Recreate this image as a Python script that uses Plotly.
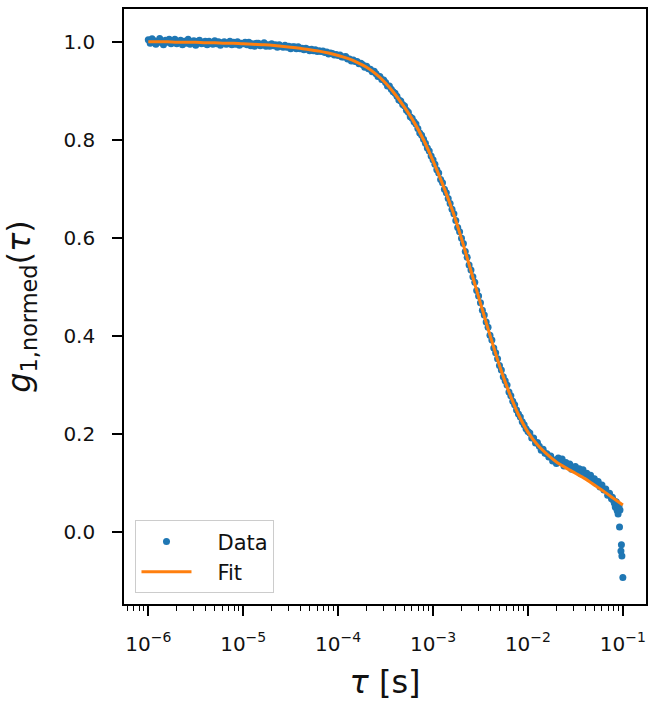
import numpy as np
import plotly.graph_objects as go

# ---- data ----
log_tau_data = [
    -6.00, -5.98, -5.96, -5.94, -5.92, -5.90, -5.88, -5.86, -5.84, -5.82,
    -5.80, -5.78, -5.76, -5.74, -5.72, -5.70, -5.68, -5.66, -5.64, -5.62,
    -5.60, -5.58, -5.56, -5.54, -5.52, -5.50, -5.48, -5.46, -5.44, -5.42,
    -5.40, -5.38, -5.36, -5.34, -5.32, -5.30, -5.28, -5.26, -5.24, -5.22,
    -5.20, -5.18, -5.16, -5.14, -5.12, -5.10, -5.08, -5.06, -5.04, -5.02,
    -5.00, -4.98, -4.96, -4.94, -4.92, -4.90, -4.88, -4.86, -4.84, -4.82,
    -4.80, -4.78, -4.76, -4.74, -4.72, -4.70, -4.68, -4.66, -4.64, -4.62,
    -4.60, -4.58, -4.56, -4.54, -4.52, -4.50, -4.48, -4.46, -4.44, -4.42,
    -4.40, -4.38, -4.36, -4.34, -4.32, -4.30, -4.28, -4.26, -4.24, -4.22,
    -4.20, -4.18, -4.16, -4.14, -4.12, -4.10, -4.08, -4.06, -4.04, -4.02,
    -4.00, -3.98, -3.96, -3.94, -3.92, -3.90, -3.88, -3.86, -3.84, -3.82,
    -3.80, -3.78, -3.76, -3.74, -3.72, -3.70, -3.68, -3.66, -3.64, -3.62,
    -3.60, -3.58, -3.56, -3.54, -3.52, -3.50, -3.48, -3.46, -3.44, -3.42,
    -3.40, -3.38, -3.36, -3.34, -3.32, -3.30, -3.28, -3.26, -3.24, -3.22,
    -3.20, -3.18, -3.16, -3.14, -3.12, -3.10, -3.08, -3.06, -3.04, -3.02,
    -3.00, -2.98, -2.96, -2.94, -2.92, -2.90, -2.88, -2.86, -2.84, -2.82,
    -2.80, -2.78, -2.76, -2.74, -2.72, -2.70, -2.68, -2.66, -2.64, -2.62,
    -2.60, -2.58, -2.56, -2.54, -2.52, -2.50, -2.48, -2.46, -2.44, -2.42,
    -2.40, -2.38, -2.36, -2.34, -2.32, -2.30, -2.28, -2.26, -2.24, -2.22,
    -2.20, -2.18, -2.16, -2.14, -2.12, -2.10, -2.08, -2.06, -2.04, -2.02,
    -2.00, -1.98, -1.96, -1.94, -1.92, -1.90, -1.88, -1.86, -1.84, -1.82,
    -1.80, -1.78, -1.76, -1.74, -1.72, -1.70, -1.68, -1.66, -1.64, -1.62,
    -1.60, -1.58, -1.56, -1.54, -1.52, -1.50, -1.48, -1.46, -1.44, -1.42,
    -1.40, -1.38, -1.36, -1.34, -1.32, -1.30, -1.28, -1.26, -1.24, -1.22,
    -1.20, -1.18, -1.16, -1.14, -1.12,
    -1.11, -1.10, -1.09, -1.08, -1.07, -1.06, -1.05, -1.04, -1.035, -1.03,
    -1.02, -1.015, -1.01, -1.00,
]
g1_data = [
    1.004, 0.997, 1.006, 1.002, 0.995, 1.001, 1.007, 0.998, 0.994, 1.003,
    0.999, 1.005, 0.996, 1.001, 1.005, 0.996, 0.999, 1.003, 0.994, 1.001,
    0.997, 1.005, 0.995, 1.000, 1.002, 0.993, 1.001, 1.003, 0.996, 0.997,
    1.001, 0.994, 1.001, 0.998, 0.995, 1.002, 0.996, 1.000, 0.993, 0.998,
    1.000, 0.995, 0.996, 1.001, 0.994, 0.999, 0.995, 1.000, 0.993, 0.997,
    0.996, 0.999, 0.994, 0.999, 0.992, 0.996, 0.991, 0.997, 0.997, 0.992,
    0.994, 0.998, 0.991, 0.994, 0.991, 0.996, 0.992, 0.994, 0.989, 0.994,
    0.991, 0.989, 0.993, 0.989, 0.991, 0.986, 0.990, 0.990, 0.986, 0.990,
    0.986, 0.987, 0.984, 0.987, 0.985, 0.982, 0.985, 0.982, 0.984, 0.980,
    0.982, 0.980, 0.981, 0.978, 0.979, 0.975, 0.977, 0.976, 0.973, 0.974,
    0.972, 0.973, 0.969, 0.969, 0.970, 0.965, 0.965, 0.961, 0.963, 0.960,
    0.960, 0.955, 0.956, 0.953, 0.948, 0.950, 0.945, 0.944, 0.939, 0.940,
    0.935, 0.929, 0.929, 0.923, 0.922, 0.917, 0.910, 0.910, 0.903, 0.898,
    0.895, 0.889, 0.881, 0.879, 0.872, 0.869, 0.860, 0.856, 0.847, 0.844,
    0.837, 0.832, 0.823, 0.814, 0.809, 0.801, 0.793, 0.783, 0.777, 0.767,
    0.759, 0.750, 0.739, 0.732, 0.719, 0.712, 0.699, 0.692, 0.680, 0.670,
    0.658, 0.649, 0.635, 0.621, 0.612, 0.599, 0.588, 0.572, 0.560, 0.544,
    0.534, 0.520, 0.509, 0.492, 0.481, 0.467, 0.452, 0.442, 0.428, 0.417,
    0.401, 0.391, 0.375, 0.365, 0.353, 0.339, 0.330, 0.316, 0.308, 0.299,
    0.285, 0.277, 0.266, 0.259, 0.248, 0.240, 0.234, 0.224, 0.218, 0.210,
    0.204, 0.201, 0.191, 0.191, 0.181, 0.182, 0.174, 0.166, 0.168, 0.160,
    0.159, 0.152, 0.154, 0.144, 0.146, 0.139, 0.150, 0.142, 0.148, 0.134,
    0.141, 0.134, 0.138, 0.127, 0.131, 0.133, 0.124, 0.128, 0.118, 0.126,
    0.118, 0.119, 0.110, 0.115, 0.107, 0.108, 0.098, 0.102, 0.091, 0.095,
    0.085, 0.087, 0.074, 0.078, 0.067,
    0.070, 0.064, 0.058, 0.050, 0.061, 0.043, 0.036, 0.052, 0.009, 0.044,
    -0.040, -0.027, -0.050, -0.094,
]

log_tau_fit = [
    -6.0, -5.9, -5.8, -5.7, -5.6, -5.5, -5.4, -5.3, -5.2, -5.1,
    -5.0, -4.9, -4.8, -4.7, -4.6, -4.5, -4.4, -4.3, -4.2, -4.1,
    -4.0, -3.9, -3.8, -3.7, -3.6, -3.5, -3.4, -3.3, -3.2, -3.1,
    -3.0, -2.9, -2.8, -2.7, -2.6, -2.5, -2.4, -2.3, -2.2, -2.1,
    -2.0, -1.9, -1.8, -1.7, -1.6, -1.5, -1.4, -1.3, -1.2, -1.1,
    -1.0,
]
g1_fit = [
    1.000, 1.000, 1.000, 0.999, 0.999, 0.999, 0.998, 0.998, 0.997, 0.997,
    0.996, 0.995, 0.994, 0.993, 0.991, 0.989, 0.987, 0.984, 0.981, 0.977,
    0.972, 0.966, 0.958, 0.948, 0.934, 0.916, 0.893, 0.866, 0.836, 0.800,
    0.757, 0.710, 0.658, 0.598, 0.532, 0.466, 0.401, 0.339, 0.285, 0.239,
    0.203, 0.177, 0.158, 0.142, 0.130, 0.119, 0.108, 0.095, 0.082, 0.068,
    0.054,
]

x_tick_vals = [1e-6, 1e-5, 1e-4, 1e-3, 1e-2, 1e-1]
x_tick_text = ["10<sup>\u22126</sup>", "10<sup>\u22125</sup>", "10<sup>\u22124</sup>",
               "10<sup>\u22123</sup>", "10<sup>\u22122</sup>", "10<sup>\u22121</sup>"]
y_tick_vals = [0.0, 0.2, 0.4, 0.6, 0.8, 1.0]
y_tick_text = ["0.0", "0.2", "0.4", "0.6", "0.8", "1.0"]

tau_data = 10 ** np.array(log_tau_data)
tau_fit = 10 ** np.array(log_tau_fit)

FONT = "DejaVu Sans"
TXT = "#111111"
GAP = "\u2003"  # spacing between legend symbol and label

fig = go.Figure()
fig.add_trace(go.Scatter(
    x=tau_data, y=g1_data, mode="markers", name=GAP + "Data",
    marker=dict(color="#1f77b4", size=7, line=dict(width=0)),
))
fig.add_trace(go.Scatter(
    x=tau_fit, y=g1_fit, mode="lines", name=GAP + "Fit",
    line=dict(color="#ff7f0e", width=3, shape="spline", smoothing=0.6),
))

axis_common = dict(
    showline=True, linecolor="black", linewidth=1.6, mirror=True,
    showgrid=False, zeroline=False,
    ticks="outside", ticklen=10, tickwidth=1.6, tickcolor="black",
    tickfont=dict(family=FONT, size=20, color=TXT),
)

fig.update_layout(
    width=649, height=701,
    margin=dict(l=124, r=3, t=9, b=97, pad=0),
    paper_bgcolor="white", plot_bgcolor="white",
    font=dict(family=FONT, color=TXT),
    xaxis=dict(
        type="log", range=[-6.256, -0.756],
        tickmode="array", tickvals=x_tick_vals, ticktext=x_tick_text,
        ticklabelstandoff=11,
        minor=dict(ticks="outside", ticklen=5, tickwidth=1.2, tickcolor="black",
                   dtick="D1", showgrid=False),
        title=dict(text="<i>\u03c4</i> [s]", font=dict(family=FONT, size=32, color=TXT), standoff=18),
        automargin=False,
        **axis_common,
    ),
    yaxis=dict(
        range=[-0.148, 1.067],
        tickmode="array", tickvals=y_tick_vals, ticktext=y_tick_text,
        ticklabelstandoff=13,
        title=dict(text="<i>g</i><sub>1,normed</sub>(<i>\u03c4</i>)",
                   font=dict(family=FONT, size=32, color=TXT), standoff=28),
        automargin=False,
        **axis_common,
    ),
    legend=dict(
        x=0.022, y=0.018, xanchor="left", yanchor="bottom",
        bgcolor="rgba(255,255,255,0.8)", bordercolor="#cccccc", borderwidth=1,
        font=dict(family=FONT, size=21, color=TXT),
        itemwidth=50,
    ),
    showlegend=True,
)

fig.write_html(
    "out.html",
    config={"displayModeBar": False},
    post_script="document.body.style.margin='0px';",
)
